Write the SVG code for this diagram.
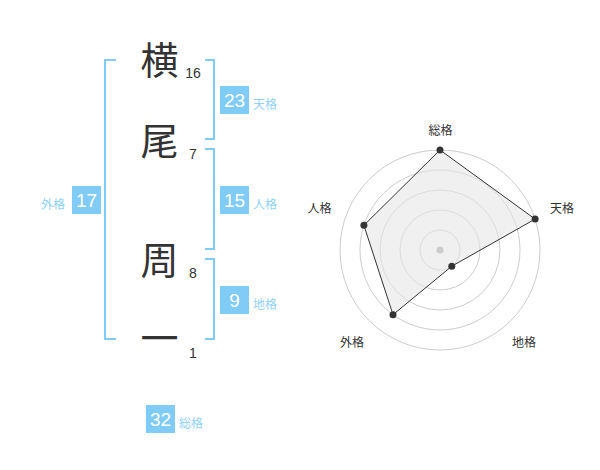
<svg xmlns="http://www.w3.org/2000/svg" width="600" height="470" viewBox="0 0 600 470">
<style>
.kanji{font-family:"Noto Sans CJK JP","Noto Sans CJK SC",sans-serif;font-size:38px;fill:#333;text-anchor:middle}
.num{font-family:"Liberation Sans",Arial,sans-serif;font-size:14px;fill:#333;text-anchor:middle}
.br{fill:none;stroke:#80ccf6;stroke-width:2}
.box{fill:#80ccf6}
.bnum{font-family:"Liberation Sans",Arial,sans-serif;font-size:19px;fill:#fff;text-anchor:middle}
.blab{font-family:"Noto Sans CJK JP","Noto Sans CJK SC",sans-serif;font-size:12px;fill:#8fd2f6}
.ring{fill:none;stroke:#cccccc;stroke-width:1}
.rlab{font-family:"Noto Sans CJK JP","Noto Sans CJK SC",sans-serif;font-size:12px;fill:#333;text-anchor:middle}
.pt{fill:#333}
</style>
<rect width="600" height="470" fill="#fff"/>
<g id="char-yoko"><text class="kanji" x="159.5" y="74">横</text><text class="num" x="193" y="78">16</text></g>
<g id="char-o"><text class="kanji" x="159.5" y="155">尾</text><text class="num" x="193" y="158.5">7</text></g>
<g id="char-shu"><text class="kanji" x="159.5" y="274">周</text><text class="num" x="193" y="278">8</text></g>
<g id="char-ichi"><text class="kanji" x="159.5" y="352">一</text><text class="num" x="193" y="358">1</text></g>
<g id="connectors">
<path class="br" d="M116,60H105V339H116"/>
<path class="br" d="M205,60H214V139H205"/>
<path class="br" d="M205,149H214V249H205"/>
<path class="br" d="M205,259H214V339H205"/>
</g>
<g id="tenkaku"><rect class="box" x="220" y="86" width="29" height="28"/><text class="bnum" x="234.5" y="107">23</text><text class="blab" x="253" y="108.5">天格</text></g>
<g id="jinkaku"><rect class="box" x="220" y="186" width="29" height="28"/><text class="bnum" x="234.5" y="207">15</text><text class="blab" x="253" y="208.5">人格</text></g>
<g id="gaikaku"><rect class="box" x="72" y="186" width="29" height="28"/><text class="bnum" x="86.5" y="207">17</text><text class="blab" x="41" y="208.5">外格</text></g>
<g id="chikaku"><rect class="box" x="220" y="286" width="29" height="28"/><text class="bnum" x="234.5" y="307">9</text><text class="blab" x="253" y="308.5">地格</text></g>
<g id="soukaku"><rect class="box" x="146" y="405" width="29" height="28"/><text class="bnum" x="160.5" y="426">32</text><text class="blab" x="179" y="427.5">総格</text></g>
<g id="radar">
<circle class="ring" cx="440" cy="250" r="20"/>
<circle class="ring" cx="440" cy="250" r="40"/>
<circle class="ring" cx="440" cy="250" r="60"/>
<circle class="ring" cx="440" cy="250" r="80"/>
<circle class="ring" cx="440" cy="250" r="100"/>
<polygon points="440,150 535.1,219.1 451.8,266.2 393,314.7 363.9,225.3" fill="#e6e6e6" fill-opacity="0.6" stroke="#333" stroke-width="1"/>
<circle cx="440" cy="250" r="3.5" fill="#cccccc"/>
<circle class="pt" cx="440" cy="150" r="3.5"/>
<circle class="pt" cx="535.1" cy="219.1" r="3.5"/>
<circle class="pt" cx="451.8" cy="266.2" r="3.5"/>
<circle class="pt" cx="393" cy="314.7" r="3.5"/>
<circle class="pt" cx="363.9" cy="225.3" r="3.5"/>
<text class="rlab" x="440.5" y="134.5">総格</text>
<text class="rlab" x="562" y="213">天格</text>
<text class="rlab" x="319.5" y="213">人格</text>
<text class="rlab" x="352" y="346.5">外格</text>
<text class="rlab" x="524" y="346.5">地格</text>
</g>
</svg>
